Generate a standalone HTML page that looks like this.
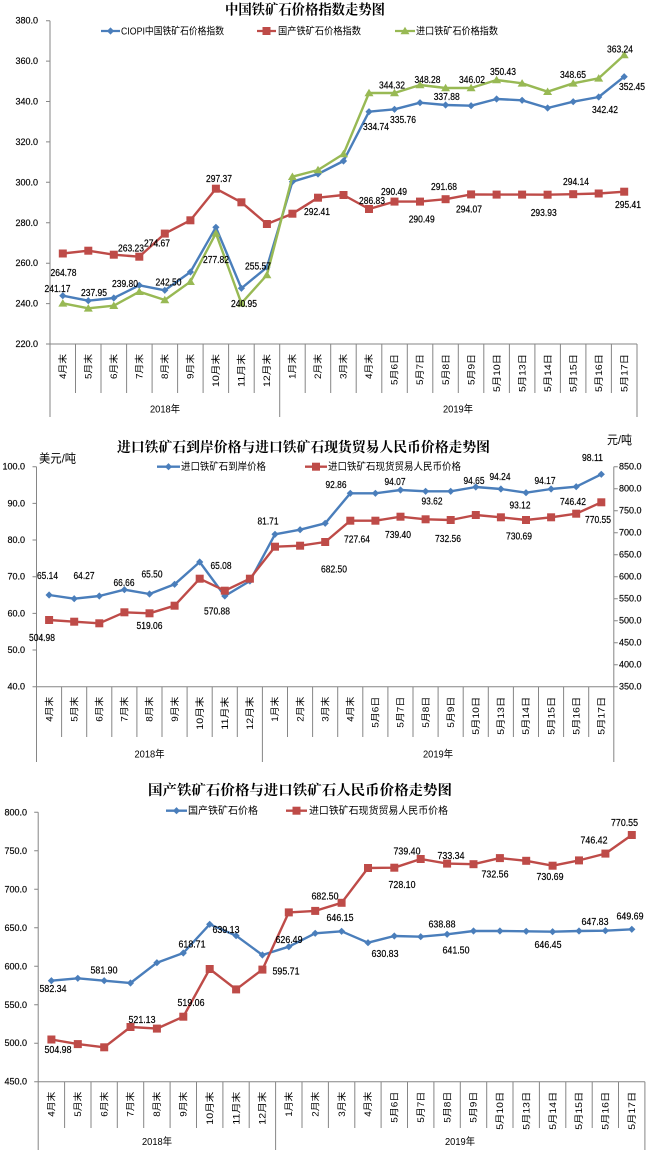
<!DOCTYPE html>
<html><head><meta charset="utf-8"><style>
html,body{margin:0;padding:0;background:#fff;}
svg{display:block;}
text{font-family:"Liberation Sans","Noto Sans CJK SC",sans-serif;fill:#000;}
.t{font-family:"Liberation Serif","Noto Serif CJK SC",serif;font-weight:700;font-size:14px;}
.yl{font-size:9px;text-anchor:end;stroke:#000;stroke-width:0.15;}
.yr{font-size:9px;text-anchor:start;stroke:#000;stroke-width:0.15;}
.dl{font-size:10px;text-anchor:middle;stroke:#000;stroke-width:0.2;}
.lg{font-size:10px;}
.cat{font-size:9px;text-anchor:end;}
.yr2{font-size:10px;text-anchor:middle;}
.ax{stroke:#868686;stroke-width:1;fill:none;}
.lb{fill:none;stroke:#4A7EBB;stroke-width:2.4;stroke-linejoin:round;}
.lr{fill:none;stroke:#BE4B48;stroke-width:2.4;stroke-linejoin:round;}
.lgn{fill:none;stroke:#98B954;stroke-width:2.4;stroke-linejoin:round;}
</style></head><body>
<svg width="650" height="1165" viewBox="0 0 650 1165" xmlns="http://www.w3.org/2000/svg">
<defs>
<path id="dm" d="M0,-3.6 L3.6,0 L0,3.6 L-3.6,0Z" fill="#4A7EBB"/>
<rect id="sq" x="-4" y="-4" width="8" height="8" fill="#BE4B48"/>
<rect id="sq2" x="-4" y="-4" width="8" height="8" fill="#BE4B48"/>
<path id="tr" d="M0,-4.2 L4.5,3.3 L-4.5,3.3Z" fill="#98B954"/>
</defs>
<rect width="650" height="1165" fill="#fff"/>

<!-- ================= CHART 1 ================= -->
<text class="t" x="225" y="14.5" textLength="160" lengthAdjust="spacingAndGlyphs">中国铁矿石价格指数走势图</text>
<line x1="101" y1="31" x2="120" y2="31" stroke="#4A7EBB" stroke-width="2.3"/><use href="#dm" x="110.5" y="31"/>
<text class="lg" x="121" y="34.5" textLength="103" lengthAdjust="spacingAndGlyphs">CIOPI中国铁矿石价格指数</text>
<line x1="257" y1="31" x2="276" y2="31" stroke="#BE4B48" stroke-width="2.3"/><use href="#sq" x="266.5" y="31"/>
<text class="lg" x="278" y="34.5" textLength="83" lengthAdjust="spacingAndGlyphs">国产铁矿石价格指数</text>
<line x1="395" y1="31" x2="415" y2="31" stroke="#98B954" stroke-width="2.3"/><use href="#tr" x="405" y="31"/>
<text class="lg" x="416" y="34.5" textLength="82" lengthAdjust="spacingAndGlyphs">进口铁矿石价格指数</text>
<path class="ax" d="M50,20.7 V417 M46,20.7 H50 M46,61.1 H50 M46,101.5 H50 M46,141.9 H50 M46,182.3 H50 M46,222.8 H50 M46,263.2 H50 M46,303.6 H50 M46,344 H637 M279.7,344 V417 M637,344 V417"/>
<path class="ax" d="M75.5,344V393 M101,344V393 M126.6,344V393 M152.1,344V393 M177.6,344V393 M203.1,344V393 M228.6,344V393 M254.2,344V393 M305.2,344V393 M330.7,344V393 M356.2,344V393 M381.8,344V393 M407.3,344V393 M432.8,344V393 M458.3,344V393 M483.8,344V393 M509.4,344V393 M534.9,344V393 M560.4,344V393 M585.9,344V393 M611.4,344V393"/>
<text class="yl" x="38" y="23.7">380.0</text>
<text class="yl" x="38" y="64.1">360.0</text>
<text class="yl" x="38" y="104.5">340.0</text>
<text class="yl" x="38" y="144.9">320.0</text>
<text class="yl" x="38" y="185.3">300.0</text>
<text class="yl" x="38" y="225.8">280.0</text>
<text class="yl" x="38" y="266.2">260.0</text>
<text class="yl" x="38" y="306.6">240.0</text>
<text class="yl" x="38" y="347">220.0</text>
<g>
<text class="cat" transform="translate(66,354) rotate(-90)" textLength="25" lengthAdjust="spacingAndGlyphs">4月末</text>
<text class="cat" transform="translate(91.5,354) rotate(-90)" textLength="25" lengthAdjust="spacingAndGlyphs">5月末</text>
<text class="cat" transform="translate(117,354) rotate(-90)" textLength="25" lengthAdjust="spacingAndGlyphs">6月末</text>
<text class="cat" transform="translate(142.5,354) rotate(-90)" textLength="25" lengthAdjust="spacingAndGlyphs">7月末</text>
<text class="cat" transform="translate(168,354) rotate(-90)" textLength="25" lengthAdjust="spacingAndGlyphs">8月末</text>
<text class="cat" transform="translate(193.6,354) rotate(-90)" textLength="25" lengthAdjust="spacingAndGlyphs">9月末</text>
<text class="cat" transform="translate(219.1,354) rotate(-90)" textLength="33" lengthAdjust="spacingAndGlyphs">10月末</text>
<text class="cat" transform="translate(244.6,354) rotate(-90)" textLength="33" lengthAdjust="spacingAndGlyphs">11月末</text>
<text class="cat" transform="translate(270.1,354) rotate(-90)" textLength="33" lengthAdjust="spacingAndGlyphs">12月末</text>
<text class="cat" transform="translate(295.6,354) rotate(-90)" textLength="25" lengthAdjust="spacingAndGlyphs">1月末</text>
<text class="cat" transform="translate(321.2,354) rotate(-90)" textLength="25" lengthAdjust="spacingAndGlyphs">2月末</text>
<text class="cat" transform="translate(346.7,354) rotate(-90)" textLength="25" lengthAdjust="spacingAndGlyphs">3月末</text>
<text class="cat" transform="translate(372.2,354) rotate(-90)" textLength="25" lengthAdjust="spacingAndGlyphs">4月末</text>
<text class="cat" transform="translate(397.7,354) rotate(-90)" textLength="31" lengthAdjust="spacingAndGlyphs">5月6日</text>
<text class="cat" transform="translate(423.2,354) rotate(-90)" textLength="31" lengthAdjust="spacingAndGlyphs">5月7日</text>
<text class="cat" transform="translate(448.8,354) rotate(-90)" textLength="31" lengthAdjust="spacingAndGlyphs">5月8日</text>
<text class="cat" transform="translate(474.3,354) rotate(-90)" textLength="31" lengthAdjust="spacingAndGlyphs">5月9日</text>
<text class="cat" transform="translate(499.8,354) rotate(-90)" textLength="38" lengthAdjust="spacingAndGlyphs">5月10日</text>
<text class="cat" transform="translate(525.3,354) rotate(-90)" textLength="38" lengthAdjust="spacingAndGlyphs">5月13日</text>
<text class="cat" transform="translate(550.8,354) rotate(-90)" textLength="38" lengthAdjust="spacingAndGlyphs">5月14日</text>
<text class="cat" transform="translate(576.4,354) rotate(-90)" textLength="38" lengthAdjust="spacingAndGlyphs">5月15日</text>
<text class="cat" transform="translate(601.9,354) rotate(-90)" textLength="38" lengthAdjust="spacingAndGlyphs">5月16日</text>
<text class="cat" transform="translate(627.4,354) rotate(-90)" textLength="38" lengthAdjust="spacingAndGlyphs">5月17日</text>
</g>
<text class="yr2" x="165" y="412.5" textLength="30" lengthAdjust="spacingAndGlyphs">2018年</text>
<text class="yr2" x="458" y="412.5" textLength="30" lengthAdjust="spacingAndGlyphs">2019年</text>
<polyline class="lb" points="62.8,295.7 88.3,300.7 113.8,298 139.3,285.3 164.8,290.3 190.4,272 215.9,227.3 241.4,288.3 266.9,267.3 292.4,181.7 318,174 343.5,161 369,111.7 394.5,109.3 420,102.7 445.6,105 471.1,105.7 496.6,99 522.1,100.3 547.6,108 573.2,101.7 598.7,97 624.2,76.7"/>
<g>
<use href="#dm" x="62.8" y="295.7"/><use href="#dm" x="88.3" y="300.7"/><use href="#dm" x="113.8" y="298"/><use href="#dm" x="139.3" y="285.3"/><use href="#dm" x="164.8" y="290.3"/><use href="#dm" x="190.4" y="272"/><use href="#dm" x="215.9" y="227.3"/><use href="#dm" x="241.4" y="288.3"/><use href="#dm" x="266.9" y="267.3"/><use href="#dm" x="292.4" y="181.7"/><use href="#dm" x="318" y="174"/><use href="#dm" x="343.5" y="161"/><use href="#dm" x="369" y="111.7"/><use href="#dm" x="394.5" y="109.3"/><use href="#dm" x="420" y="102.7"/><use href="#dm" x="445.6" y="105"/><use href="#dm" x="471.1" y="105.7"/><use href="#dm" x="496.6" y="99"/><use href="#dm" x="522.1" y="100.3"/><use href="#dm" x="547.6" y="108"/><use href="#dm" x="573.2" y="101.7"/><use href="#dm" x="598.7" y="97"/><use href="#dm" x="624.2" y="76.7"/>
</g>
<polyline class="lr" points="62.8,253.5 88.3,250.7 113.8,254.7 139.3,256.7 164.8,233.6 190.4,220.3 215.9,188.7 241.4,202.3 266.9,224 292.4,213.7 318,197.7 343.5,195 369,209 394.5,201.6 420,201.6 445.6,199.2 471.1,194.4 496.6,194.6 522.1,194.6 547.6,194.7 573.2,194.2 598.7,193.5 624.2,191.7"/>
<g>
<use href="#sq" x="62.8" y="253.5"/><use href="#sq" x="88.3" y="250.7"/><use href="#sq" x="113.8" y="254.7"/><use href="#sq" x="139.3" y="256.7"/><use href="#sq" x="164.8" y="233.6"/><use href="#sq" x="190.4" y="220.3"/><use href="#sq" x="215.9" y="188.7"/><use href="#sq" x="241.4" y="202.3"/><use href="#sq" x="266.9" y="224"/><use href="#sq" x="292.4" y="213.7"/><use href="#sq" x="318" y="197.7"/><use href="#sq" x="343.5" y="195"/><use href="#sq" x="369" y="209"/><use href="#sq" x="394.5" y="201.6"/><use href="#sq" x="420" y="201.6"/><use href="#sq" x="445.6" y="199.2"/><use href="#sq" x="471.1" y="194.4"/><use href="#sq" x="496.6" y="194.6"/><use href="#sq" x="522.1" y="194.6"/><use href="#sq" x="547.6" y="194.7"/><use href="#sq" x="573.2" y="194.2"/><use href="#sq" x="598.7" y="193.5"/><use href="#sq" x="624.2" y="191.7"/>
</g>
<polyline class="lgn" points="62.8,303.3 88.3,308.3 113.8,305.7 139.3,291.7 164.8,300 190.4,281.7 215.9,233.3 241.4,303.3 266.9,275 292.4,176.7 318,170 343.5,154 369,93 394.5,93 420,85 445.6,88 471.1,88 496.6,80 522.1,83.3 547.6,91.7 573.2,83.3 598.7,78.3 624.2,55"/>
<g>
<use href="#tr" x="62.8" y="303.3"/><use href="#tr" x="88.3" y="308.3"/><use href="#tr" x="113.8" y="305.7"/><use href="#tr" x="139.3" y="291.7"/><use href="#tr" x="164.8" y="300"/><use href="#tr" x="190.4" y="281.7"/><use href="#tr" x="215.9" y="233.3"/><use href="#tr" x="241.4" y="303.3"/><use href="#tr" x="266.9" y="275"/><use href="#tr" x="292.4" y="176.7"/><use href="#tr" x="318" y="170"/><use href="#tr" x="343.5" y="154"/><use href="#tr" x="369" y="93"/><use href="#tr" x="394.5" y="93"/><use href="#tr" x="420" y="85"/><use href="#tr" x="445.6" y="88"/><use href="#tr" x="471.1" y="88"/><use href="#tr" x="496.6" y="80"/><use href="#tr" x="522.1" y="83.3"/><use href="#tr" x="547.6" y="91.7"/><use href="#tr" x="573.2" y="83.3"/><use href="#tr" x="598.7" y="78.3"/><use href="#tr" x="624.2" y="55"/>
</g>
<g>
<text class="dl" x="620" y="52.5" textLength="26" lengthAdjust="spacingAndGlyphs">363.24</text>
<text class="dl" x="632" y="90.2" textLength="26" lengthAdjust="spacingAndGlyphs">352.45</text>
<text class="dl" x="573" y="77.8" textLength="26" lengthAdjust="spacingAndGlyphs">348.65</text>
<text class="dl" x="503" y="75.2" textLength="26" lengthAdjust="spacingAndGlyphs">350.43</text>
<text class="dl" x="472" y="82.8" textLength="26" lengthAdjust="spacingAndGlyphs">346.02</text>
<text class="dl" x="427.5" y="82.8" textLength="26" lengthAdjust="spacingAndGlyphs">348.28</text>
<text class="dl" x="392" y="88.5" textLength="26" lengthAdjust="spacingAndGlyphs">344.32</text>
<text class="dl" x="446.7" y="100.2" textLength="26" lengthAdjust="spacingAndGlyphs">337.88</text>
<text class="dl" x="605" y="112.8" textLength="26" lengthAdjust="spacingAndGlyphs">342.42</text>
<text class="dl" x="403" y="122.8" textLength="26" lengthAdjust="spacingAndGlyphs">335.76</text>
<text class="dl" x="376" y="130.2" textLength="26" lengthAdjust="spacingAndGlyphs">334.74</text>
<text class="dl" x="219" y="181.8" textLength="26" lengthAdjust="spacingAndGlyphs">297.37</text>
<text class="dl" x="394" y="195.2" textLength="26" lengthAdjust="spacingAndGlyphs">290.49</text>
<text class="dl" x="444" y="190.2" textLength="26" lengthAdjust="spacingAndGlyphs">291.68</text>
<text class="dl" x="576" y="185.2" textLength="26" lengthAdjust="spacingAndGlyphs">294.14</text>
<text class="dl" x="372" y="204" textLength="26" lengthAdjust="spacingAndGlyphs">286.83</text>
<text class="dl" x="317" y="215.2" textLength="26" lengthAdjust="spacingAndGlyphs">292.41</text>
<text class="dl" x="421.7" y="222.5" textLength="26" lengthAdjust="spacingAndGlyphs">290.49</text>
<text class="dl" x="469" y="212.5" textLength="26" lengthAdjust="spacingAndGlyphs">294.07</text>
<text class="dl" x="543.7" y="216.2" textLength="26" lengthAdjust="spacingAndGlyphs">293.93</text>
<text class="dl" x="628" y="207.8" textLength="26" lengthAdjust="spacingAndGlyphs">295.41</text>
<text class="dl" x="131" y="251.3" textLength="26" lengthAdjust="spacingAndGlyphs">263.23</text>
<text class="dl" x="157" y="246.5" textLength="26" lengthAdjust="spacingAndGlyphs">274.67</text>
<text class="dl" x="63.5" y="276" textLength="26" lengthAdjust="spacingAndGlyphs">264.78</text>
<text class="dl" x="216" y="262.8" textLength="26" lengthAdjust="spacingAndGlyphs">277.82</text>
<text class="dl" x="258" y="269.5" textLength="26" lengthAdjust="spacingAndGlyphs">255.57</text>
<text class="dl" x="57.5" y="291.8" textLength="26" lengthAdjust="spacingAndGlyphs">241.17</text>
<text class="dl" x="94" y="295.8" textLength="26" lengthAdjust="spacingAndGlyphs">237.95</text>
<text class="dl" x="125" y="287.2" textLength="26" lengthAdjust="spacingAndGlyphs">239.80</text>
<text class="dl" x="168.5" y="285.7" textLength="26" lengthAdjust="spacingAndGlyphs">242.50</text>
<text class="dl" x="244" y="306.8" textLength="26" lengthAdjust="spacingAndGlyphs">240.95</text>
</g>

<!-- ================= CHART 2 ================= -->
<text class="t" x="117" y="452" textLength="373" lengthAdjust="spacingAndGlyphs">进口铁矿石到岸价格与进口铁矿石现货贸易人民币价格走势图</text>
<text x="39" y="462.5" style="font-size:12px" textLength="37" lengthAdjust="spacingAndGlyphs">美元/吨</text>
<text x="607" y="444" style="font-size:12px" textLength="25" lengthAdjust="spacingAndGlyphs">元/吨</text>
<line x1="157" y1="466.7" x2="180" y2="466.7" stroke="#4A7EBB" stroke-width="2.3"/><use href="#dm" x="168.5" y="466.7"/>
<text class="lg" x="181" y="470" textLength="85" lengthAdjust="spacingAndGlyphs">进口铁矿石到岸价格</text>
<line x1="305" y1="466.7" x2="327" y2="466.7" stroke="#BE4B48" stroke-width="2.3"/><use href="#sq2" x="316" y="466.7"/>
<text class="lg" x="328" y="470" textLength="133" lengthAdjust="spacingAndGlyphs">进口铁矿石现货贸易人民币价格</text>
<path class="ax" d="M36.5,466.7 V762 M32.5,466.7 H36.5 M32.5,503.4 H36.5 M32.5,540 H36.5 M32.5,576.7 H36.5 M32.5,613.4 H36.5 M32.5,650 H36.5 M32.5,686.7 H613.8 M613.8,466.7 V762 M613.8,466.7 H617.8 M613.8,488.7 H617.8 M613.8,510.7 H617.8 M613.8,532.7 H617.8 M613.8,554.7 H617.8 M613.8,576.7 H617.8 M613.8,598.7 H617.8 M613.8,620.7 H617.8 M613.8,642.7 H617.8 M613.8,664.7 H617.8 M613.8,686.7 H617.8 M262.4,686.7 V762"/>
<path class="ax" d="M61.6,686.7V737 M86.7,686.7V737 M111.8,686.7V737 M136.9,686.7V737 M162,686.7V737 M187.1,686.7V737 M212.2,686.7V737 M237.3,686.7V737 M287.5,686.7V737 M312.6,686.7V737 M337.7,686.7V737 M362.8,686.7V737 M387.9,686.7V737 M413,686.7V737 M438.1,686.7V737 M463.2,686.7V737 M488.3,686.7V737 M513.4,686.7V737 M538.5,686.7V737 M563.6,686.7V737 M588.7,686.7V737"/>
<text class="yl" x="25" y="469.7">100.0</text>
<text class="yl" x="25" y="506.4">90.0</text>
<text class="yl" x="25" y="543">80.0</text>
<text class="yl" x="25" y="579.7">70.0</text>
<text class="yl" x="25" y="616.4">60.0</text>
<text class="yl" x="25" y="653">50.0</text>
<text class="yl" x="25" y="689.7">40.0</text>
<text class="yr" x="619" y="469.7">850.0</text>
<text class="yr" x="619" y="491.7">800.0</text>
<text class="yr" x="619" y="513.7">750.0</text>
<text class="yr" x="619" y="535.7">700.0</text>
<text class="yr" x="619" y="557.7">650.0</text>
<text class="yr" x="619" y="579.7">600.0</text>
<text class="yr" x="619" y="601.7">550.0</text>
<text class="yr" x="619" y="623.7">500.0</text>
<text class="yr" x="619" y="645.7">450.0</text>
<text class="yr" x="619" y="667.7">400.0</text>
<text class="yr" x="619" y="689.7">350.0</text>
<g>
<text class="cat" transform="translate(52.3,696.7) rotate(-90)" textLength="25" lengthAdjust="spacingAndGlyphs">4月末</text>
<text class="cat" transform="translate(77.4,696.7) rotate(-90)" textLength="25" lengthAdjust="spacingAndGlyphs">5月末</text>
<text class="cat" transform="translate(102.5,696.7) rotate(-90)" textLength="25" lengthAdjust="spacingAndGlyphs">6月末</text>
<text class="cat" transform="translate(127.6,696.7) rotate(-90)" textLength="25" lengthAdjust="spacingAndGlyphs">7月末</text>
<text class="cat" transform="translate(152.7,696.7) rotate(-90)" textLength="25" lengthAdjust="spacingAndGlyphs">8月末</text>
<text class="cat" transform="translate(177.8,696.7) rotate(-90)" textLength="25" lengthAdjust="spacingAndGlyphs">9月末</text>
<text class="cat" transform="translate(202.9,696.7) rotate(-90)" textLength="33" lengthAdjust="spacingAndGlyphs">10月末</text>
<text class="cat" transform="translate(228,696.7) rotate(-90)" textLength="33" lengthAdjust="spacingAndGlyphs">11月末</text>
<text class="cat" transform="translate(253.1,696.7) rotate(-90)" textLength="33" lengthAdjust="spacingAndGlyphs">12月末</text>
<text class="cat" transform="translate(278.2,696.7) rotate(-90)" textLength="25" lengthAdjust="spacingAndGlyphs">1月末</text>
<text class="cat" transform="translate(303.3,696.7) rotate(-90)" textLength="25" lengthAdjust="spacingAndGlyphs">2月末</text>
<text class="cat" transform="translate(328.4,696.7) rotate(-90)" textLength="25" lengthAdjust="spacingAndGlyphs">3月末</text>
<text class="cat" transform="translate(353.5,696.7) rotate(-90)" textLength="25" lengthAdjust="spacingAndGlyphs">4月末</text>
<text class="cat" transform="translate(378.6,696.7) rotate(-90)" textLength="31" lengthAdjust="spacingAndGlyphs">5月6日</text>
<text class="cat" transform="translate(403.7,696.7) rotate(-90)" textLength="31" lengthAdjust="spacingAndGlyphs">5月7日</text>
<text class="cat" transform="translate(428.8,696.7) rotate(-90)" textLength="31" lengthAdjust="spacingAndGlyphs">5月8日</text>
<text class="cat" transform="translate(453.9,696.7) rotate(-90)" textLength="31" lengthAdjust="spacingAndGlyphs">5月9日</text>
<text class="cat" transform="translate(479,696.7) rotate(-90)" textLength="38" lengthAdjust="spacingAndGlyphs">5月10日</text>
<text class="cat" transform="translate(504.1,696.7) rotate(-90)" textLength="38" lengthAdjust="spacingAndGlyphs">5月13日</text>
<text class="cat" transform="translate(529.2,696.7) rotate(-90)" textLength="38" lengthAdjust="spacingAndGlyphs">5月14日</text>
<text class="cat" transform="translate(554.3,696.7) rotate(-90)" textLength="38" lengthAdjust="spacingAndGlyphs">5月15日</text>
<text class="cat" transform="translate(579.4,696.7) rotate(-90)" textLength="38" lengthAdjust="spacingAndGlyphs">5月16日</text>
<text class="cat" transform="translate(604.5,696.7) rotate(-90)" textLength="38" lengthAdjust="spacingAndGlyphs">5月17日</text>
</g>
<text class="yr2" x="149.5" y="757.5" textLength="30" lengthAdjust="spacingAndGlyphs">2018年</text>
<text class="yr2" x="438" y="757.5" textLength="30" lengthAdjust="spacingAndGlyphs">2019年</text>
<polyline class="lb" points="49.1,595 74.2,598.7 99.3,596 124.4,589.7 149.5,594 174.6,584.3 199.7,562 224.8,596 249.9,581 275,534.3 300.1,529.7 325.2,523.3 350.3,493.3 375.4,493.3 400.5,490 425.6,491.3 450.7,491.3 475.8,487 500.9,489 526,492.7 551.1,489 576.2,486.7 601.3,474.3"/>
<g>
<use href="#dm" x="49.1" y="595"/><use href="#dm" x="74.2" y="598.7"/><use href="#dm" x="99.3" y="596"/><use href="#dm" x="124.4" y="589.7"/><use href="#dm" x="149.5" y="594"/><use href="#dm" x="174.6" y="584.3"/><use href="#dm" x="199.7" y="562"/><use href="#dm" x="224.8" y="596"/><use href="#dm" x="249.9" y="581"/><use href="#dm" x="275" y="534.3"/><use href="#dm" x="300.1" y="529.7"/><use href="#dm" x="325.2" y="523.3"/><use href="#dm" x="350.3" y="493.3"/><use href="#dm" x="375.4" y="493.3"/><use href="#dm" x="400.5" y="490"/><use href="#dm" x="425.6" y="491.3"/><use href="#dm" x="450.7" y="491.3"/><use href="#dm" x="475.8" y="487"/><use href="#dm" x="500.9" y="489"/><use href="#dm" x="526" y="492.7"/><use href="#dm" x="551.1" y="489"/><use href="#dm" x="576.2" y="486.7"/><use href="#dm" x="601.3" y="474.3"/>
</g>
<polyline class="lr" points="49.1,620 74.2,621.7 99.3,623.3 124.4,612.3 149.5,613.3 174.6,605.7 199.7,578.7 224.8,590.7 249.9,578.7 275,546.7 300.1,545.7 325.2,542 350.3,520.7 375.4,520.7 400.5,516.7 425.6,519.3 450.7,520 475.8,515 500.9,517.3 526,520 551.1,517.3 576.2,513.7 601.3,502.3"/>
<g>
<use href="#sq2" x="49.1" y="620"/><use href="#sq2" x="74.2" y="621.7"/><use href="#sq2" x="99.3" y="623.3"/><use href="#sq2" x="124.4" y="612.3"/><use href="#sq2" x="149.5" y="613.3"/><use href="#sq2" x="174.6" y="605.7"/><use href="#sq2" x="199.7" y="578.7"/><use href="#sq2" x="224.8" y="590.7"/><use href="#sq2" x="249.9" y="578.7"/><use href="#sq2" x="275" y="546.7"/><use href="#sq2" x="300.1" y="545.7"/><use href="#sq2" x="325.2" y="542"/><use href="#sq2" x="350.3" y="520.7"/><use href="#sq2" x="375.4" y="520.7"/><use href="#sq2" x="400.5" y="516.7"/><use href="#sq2" x="425.6" y="519.3"/><use href="#sq2" x="450.7" y="520"/><use href="#sq2" x="475.8" y="515"/><use href="#sq2" x="500.9" y="517.3"/><use href="#sq2" x="526" y="520"/><use href="#sq2" x="551.1" y="517.3"/><use href="#sq2" x="576.2" y="513.7"/><use href="#sq2" x="601.3" y="502.3"/>
</g>
<g>
<text class="dl" x="47.5" y="579.2" textLength="21" lengthAdjust="spacingAndGlyphs">65.14</text>
<text class="dl" x="84" y="579.2" textLength="21" lengthAdjust="spacingAndGlyphs">64.27</text>
<text class="dl" x="124" y="586.2" textLength="21" lengthAdjust="spacingAndGlyphs">66.66</text>
<text class="dl" x="152" y="577.5" textLength="21" lengthAdjust="spacingAndGlyphs">65.50</text>
<text class="dl" x="221" y="569.2" textLength="21" lengthAdjust="spacingAndGlyphs">65.08</text>
<text class="dl" x="217" y="614.5" textLength="26" lengthAdjust="spacingAndGlyphs">570.88</text>
<text class="dl" x="149.5" y="629" textLength="26" lengthAdjust="spacingAndGlyphs">519.06</text>
<text class="dl" x="42" y="641.2" textLength="26" lengthAdjust="spacingAndGlyphs">504.98</text>
<text class="dl" x="268" y="524.5" textLength="21" lengthAdjust="spacingAndGlyphs">81.71</text>
<text class="dl" x="334" y="572.5" textLength="26" lengthAdjust="spacingAndGlyphs">682.50</text>
<text class="dl" x="336" y="487.8" textLength="21" lengthAdjust="spacingAndGlyphs">92.86</text>
<text class="dl" x="357" y="542.5" textLength="26" lengthAdjust="spacingAndGlyphs">727.64</text>
<text class="dl" x="395" y="485.2" textLength="21" lengthAdjust="spacingAndGlyphs">94.07</text>
<text class="dl" x="398" y="537.8" textLength="26" lengthAdjust="spacingAndGlyphs">739.40</text>
<text class="dl" x="432" y="504.5" textLength="21" lengthAdjust="spacingAndGlyphs">93.62</text>
<text class="dl" x="448" y="541.8" textLength="26" lengthAdjust="spacingAndGlyphs">732.56</text>
<text class="dl" x="474" y="484.2" textLength="21" lengthAdjust="spacingAndGlyphs">94.65</text>
<text class="dl" x="500" y="479.8" textLength="21" lengthAdjust="spacingAndGlyphs">94.24</text>
<text class="dl" x="520" y="508.5" textLength="21" lengthAdjust="spacingAndGlyphs">93.12</text>
<text class="dl" x="519" y="539.5" textLength="26" lengthAdjust="spacingAndGlyphs">730.69</text>
<text class="dl" x="545" y="484.2" textLength="21" lengthAdjust="spacingAndGlyphs">94.17</text>
<text class="dl" x="573" y="505.2" textLength="26" lengthAdjust="spacingAndGlyphs">746.42</text>
<text class="dl" x="598" y="522.8" textLength="26" lengthAdjust="spacingAndGlyphs">770.55</text>
<text class="dl" x="592.5" y="461" textLength="21" lengthAdjust="spacingAndGlyphs">98.11</text>
</g>

<!-- ================= CHART 3 ================= -->
<text class="t" x="148" y="795" textLength="304" lengthAdjust="spacingAndGlyphs">国产铁矿石价格与进口铁矿石人民币价格走势图</text>
<line x1="166" y1="810.7" x2="187" y2="810.7" stroke="#4A7EBB" stroke-width="2.3"/><use href="#dm" x="176.5" y="810.7"/>
<text class="lg" x="188" y="814.2" textLength="70" lengthAdjust="spacingAndGlyphs">国产铁矿石价格</text>
<line x1="286" y1="810.7" x2="307" y2="810.7" stroke="#BE4B48" stroke-width="2.3"/><use href="#sq2" x="296.5" y="810.7"/>
<text class="lg" x="309" y="814.2" textLength="139" lengthAdjust="spacingAndGlyphs">进口铁矿石现货贸易人民币价格</text>
<path class="ax" d="M38.2,812.3 V1150 M34.2,812.3 H38.2 M34.2,850.8 H38.2 M34.2,889.3 H38.2 M34.2,927.8 H38.2 M34.2,966.3 H38.2 M34.2,1004.8 H38.2 M34.2,1043.2 H38.2 M34.2,1081.7 H644.9 M275.6,1081.7 V1150 M644.9,1081.7 V1150"/>
<path class="ax" d="M64.6,1081.7V1128 M91,1081.7V1128 M117.3,1081.7V1128 M143.7,1081.7V1128 M170.1,1081.7V1128 M196.5,1081.7V1128 M222.9,1081.7V1128 M249.2,1081.7V1128 M302,1081.7V1128 M328.4,1081.7V1128 M354.8,1081.7V1128 M381.1,1081.7V1128 M407.5,1081.7V1128 M433.9,1081.7V1128 M460.3,1081.7V1128 M486.7,1081.7V1128 M513,1081.7V1128 M539.4,1081.7V1128 M565.8,1081.7V1128 M592.2,1081.7V1128 M618.5,1081.7V1128"/>
<text class="yl" x="27" y="815.3">800.0</text>
<text class="yl" x="27" y="853.8">750.0</text>
<text class="yl" x="27" y="892.3">700.0</text>
<text class="yl" x="27" y="930.8">650.0</text>
<text class="yl" x="27" y="969.3">600.0</text>
<text class="yl" x="27" y="1007.8">550.0</text>
<text class="yl" x="27" y="1046.2">500.0</text>
<text class="yl" x="27" y="1084.7">450.0</text>
<g>
<text class="cat" transform="translate(54.6,1091.7) rotate(-90)" textLength="25" lengthAdjust="spacingAndGlyphs">4月末</text>
<text class="cat" transform="translate(81,1091.7) rotate(-90)" textLength="25" lengthAdjust="spacingAndGlyphs">5月末</text>
<text class="cat" transform="translate(107.4,1091.7) rotate(-90)" textLength="25" lengthAdjust="spacingAndGlyphs">6月末</text>
<text class="cat" transform="translate(133.7,1091.7) rotate(-90)" textLength="25" lengthAdjust="spacingAndGlyphs">7月末</text>
<text class="cat" transform="translate(160.1,1091.7) rotate(-90)" textLength="25" lengthAdjust="spacingAndGlyphs">8月末</text>
<text class="cat" transform="translate(186.5,1091.7) rotate(-90)" textLength="25" lengthAdjust="spacingAndGlyphs">9月末</text>
<text class="cat" transform="translate(212.9,1091.7) rotate(-90)" textLength="33" lengthAdjust="spacingAndGlyphs">10月末</text>
<text class="cat" transform="translate(239.3,1091.7) rotate(-90)" textLength="33" lengthAdjust="spacingAndGlyphs">11月末</text>
<text class="cat" transform="translate(265.6,1091.7) rotate(-90)" textLength="33" lengthAdjust="spacingAndGlyphs">12月末</text>
<text class="cat" transform="translate(292,1091.7) rotate(-90)" textLength="25" lengthAdjust="spacingAndGlyphs">1月末</text>
<text class="cat" transform="translate(318.4,1091.7) rotate(-90)" textLength="25" lengthAdjust="spacingAndGlyphs">2月末</text>
<text class="cat" transform="translate(344.8,1091.7) rotate(-90)" textLength="25" lengthAdjust="spacingAndGlyphs">3月末</text>
<text class="cat" transform="translate(371.2,1091.7) rotate(-90)" textLength="25" lengthAdjust="spacingAndGlyphs">4月末</text>
<text class="cat" transform="translate(397.5,1091.7) rotate(-90)" textLength="31" lengthAdjust="spacingAndGlyphs">5月6日</text>
<text class="cat" transform="translate(423.9,1091.7) rotate(-90)" textLength="31" lengthAdjust="spacingAndGlyphs">5月7日</text>
<text class="cat" transform="translate(450.3,1091.7) rotate(-90)" textLength="31" lengthAdjust="spacingAndGlyphs">5月8日</text>
<text class="cat" transform="translate(476.7,1091.7) rotate(-90)" textLength="31" lengthAdjust="spacingAndGlyphs">5月9日</text>
<text class="cat" transform="translate(503.1,1091.7) rotate(-90)" textLength="38" lengthAdjust="spacingAndGlyphs">5月10日</text>
<text class="cat" transform="translate(529.4,1091.7) rotate(-90)" textLength="38" lengthAdjust="spacingAndGlyphs">5月13日</text>
<text class="cat" transform="translate(555.8,1091.7) rotate(-90)" textLength="38" lengthAdjust="spacingAndGlyphs">5月14日</text>
<text class="cat" transform="translate(582.2,1091.7) rotate(-90)" textLength="38" lengthAdjust="spacingAndGlyphs">5月15日</text>
<text class="cat" transform="translate(608.6,1091.7) rotate(-90)" textLength="38" lengthAdjust="spacingAndGlyphs">5月16日</text>
<text class="cat" transform="translate(635,1091.7) rotate(-90)" textLength="38" lengthAdjust="spacingAndGlyphs">5月17日</text>
</g>
<text class="yr2" x="157" y="1145.2" textLength="30" lengthAdjust="spacingAndGlyphs">2018年</text>
<text class="yr2" x="460" y="1145.2" textLength="30" lengthAdjust="spacingAndGlyphs">2019年</text>
<polyline class="lb" points="51.4,980.7 77.8,978.3 104.2,980.7 130.5,983 156.9,962.7 183.3,953 209.7,924.3 236.1,935.7 262.4,955 288.8,946.7 315.2,933.3 341.6,931.3 368,942.7 394.3,936 420.7,936.7 447.1,934.3 473.5,931 499.9,931 526.2,931.3 552.6,931.7 579,931 605.4,930.7 631.8,929.3"/>
<g>
<use href="#dm" x="51.4" y="980.7"/><use href="#dm" x="77.8" y="978.3"/><use href="#dm" x="104.2" y="980.7"/><use href="#dm" x="130.5" y="983"/><use href="#dm" x="156.9" y="962.7"/><use href="#dm" x="183.3" y="953"/><use href="#dm" x="209.7" y="924.3"/><use href="#dm" x="236.1" y="935.7"/><use href="#dm" x="262.4" y="955"/><use href="#dm" x="288.8" y="946.7"/><use href="#dm" x="315.2" y="933.3"/><use href="#dm" x="341.6" y="931.3"/><use href="#dm" x="368" y="942.7"/><use href="#dm" x="394.3" y="936"/><use href="#dm" x="420.7" y="936.7"/><use href="#dm" x="447.1" y="934.3"/><use href="#dm" x="473.5" y="931"/><use href="#dm" x="499.9" y="931"/><use href="#dm" x="526.2" y="931.3"/><use href="#dm" x="552.6" y="931.7"/><use href="#dm" x="579" y="931"/><use href="#dm" x="605.4" y="930.7"/><use href="#dm" x="631.8" y="929.3"/>
</g>
<polyline class="lr" points="51.4,1039.5 77.8,1044.1 104.2,1047.3 130.5,1027 156.9,1028.6 183.3,1016.7 209.7,969 236.1,989.4 262.4,969.6 288.8,912.4 315.2,910.9 341.6,902.8 368,868 394.3,867.7 420.7,859 447.1,863.6 473.5,864.2 499.9,858.1 526.2,860.8 552.6,865.7 579,860.4 605.4,853.6 631.8,835"/>
<g>
<use href="#sq2" x="51.4" y="1039.5"/><use href="#sq2" x="77.8" y="1044.1"/><use href="#sq2" x="104.2" y="1047.3"/><use href="#sq2" x="130.5" y="1027"/><use href="#sq2" x="156.9" y="1028.6"/><use href="#sq2" x="183.3" y="1016.7"/><use href="#sq2" x="209.7" y="969"/><use href="#sq2" x="236.1" y="989.4"/><use href="#sq2" x="262.4" y="969.6"/><use href="#sq2" x="288.8" y="912.4"/><use href="#sq2" x="315.2" y="910.9"/><use href="#sq2" x="341.6" y="902.8"/><use href="#sq2" x="368" y="868"/><use href="#sq2" x="394.3" y="867.7"/><use href="#sq2" x="420.7" y="859"/><use href="#sq2" x="447.1" y="863.6"/><use href="#sq2" x="473.5" y="864.2"/><use href="#sq2" x="499.9" y="858.1"/><use href="#sq2" x="526.2" y="860.8"/><use href="#sq2" x="552.6" y="865.7"/><use href="#sq2" x="579" y="860.4"/><use href="#sq2" x="605.4" y="853.6"/><use href="#sq2" x="631.8" y="835"/>
</g>
<g>
<text class="dl" x="624.5" y="825.8" textLength="27" lengthAdjust="spacingAndGlyphs">770.55</text>
<text class="dl" x="594" y="843.5" textLength="27" lengthAdjust="spacingAndGlyphs">746.42</text>
<text class="dl" x="407" y="854.5" textLength="27" lengthAdjust="spacingAndGlyphs">739.40</text>
<text class="dl" x="451" y="859.2" textLength="27" lengthAdjust="spacingAndGlyphs">733.34</text>
<text class="dl" x="402" y="887.8" textLength="27" lengthAdjust="spacingAndGlyphs">728.10</text>
<text class="dl" x="495" y="877.5" textLength="27" lengthAdjust="spacingAndGlyphs">732.56</text>
<text class="dl" x="550" y="880.2" textLength="27" lengthAdjust="spacingAndGlyphs">730.69</text>
<text class="dl" x="325" y="899.5" textLength="27" lengthAdjust="spacingAndGlyphs">682.50</text>
<text class="dl" x="340" y="921.2" textLength="27" lengthAdjust="spacingAndGlyphs">646.15</text>
<text class="dl" x="226" y="932.8" textLength="27" lengthAdjust="spacingAndGlyphs">639.13</text>
<text class="dl" x="289" y="942.8" textLength="27" lengthAdjust="spacingAndGlyphs">626.49</text>
<text class="dl" x="192" y="947.5" textLength="27" lengthAdjust="spacingAndGlyphs">618.71</text>
<text class="dl" x="442" y="927.5" textLength="27" lengthAdjust="spacingAndGlyphs">638.88</text>
<text class="dl" x="385" y="956.8" textLength="27" lengthAdjust="spacingAndGlyphs">630.83</text>
<text class="dl" x="456" y="953.5" textLength="27" lengthAdjust="spacingAndGlyphs">641.50</text>
<text class="dl" x="548" y="947.8" textLength="27" lengthAdjust="spacingAndGlyphs">646.45</text>
<text class="dl" x="595" y="925.2" textLength="27" lengthAdjust="spacingAndGlyphs">647.83</text>
<text class="dl" x="630" y="919.5" textLength="27" lengthAdjust="spacingAndGlyphs">649.69</text>
<text class="dl" x="104" y="973.5" textLength="27" lengthAdjust="spacingAndGlyphs">581.90</text>
<text class="dl" x="53" y="991.8" textLength="27" lengthAdjust="spacingAndGlyphs">582.34</text>
<text class="dl" x="286" y="974.5" textLength="27" lengthAdjust="spacingAndGlyphs">595.71</text>
<text class="dl" x="191" y="1006.2" textLength="27" lengthAdjust="spacingAndGlyphs">519.06</text>
<text class="dl" x="142" y="1022.8" textLength="27" lengthAdjust="spacingAndGlyphs">521.13</text>
<text class="dl" x="58" y="1052.8" textLength="27" lengthAdjust="spacingAndGlyphs">504.98</text>
</g>
</svg>
</body></html>
